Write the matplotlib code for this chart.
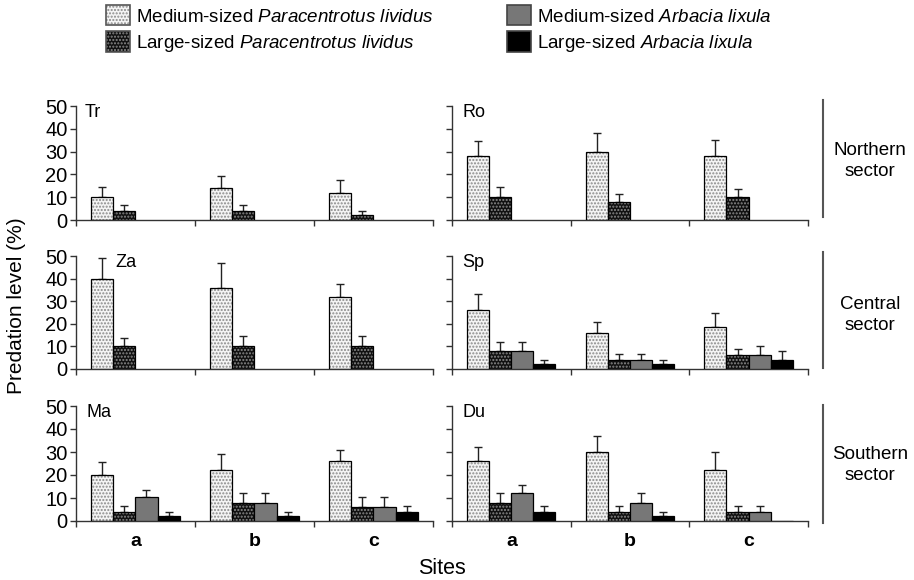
import matplotlib
matplotlib.use("Agg")
import matplotlib.pyplot as plt
import numpy as np
from matplotlib.patches import Patch
from matplotlib.lines import Line2D
from matplotlib.legend_handler import HandlerTuple

plt.rcParams['font.family'] = ['Liberation Sans', 'DejaVu Sans']
plt.rcParams['mathtext.fontset'] = 'custom'
plt.rcParams['mathtext.rm'] = 'Liberation Sans'
plt.rcParams['mathtext.it'] = 'Liberation Sans:italic'
plt.rcParams['hatch.linewidth'] = 1.0

# ---------------- data ----------------
sites = ['a', 'b', 'c']
locations = ['Tr', 'Ro', 'Za', 'Sp', 'Ma', 'Du']
sectors = ['Northern\nsector', 'Central\nsector', 'Southern\nsector']
series_labels = ['Medium-sized $\\it{Paracentrotus\\ lividus}$',
                 'Large-sized $\\it{Paracentrotus\\ lividus}$',
                 'Medium-sized $\\it{Arbacia\\ lixula}$',
                 'Large-sized $\\it{Arbacia\\ lixula}$']

nan = np.nan
# mean predation level (%) per location, sites a, b, c
p_med = {'Tr': [10, 14, 12], 'Ro': [28, 30, 28], 'Za': [40, 36, 32],
         'Sp': [26, 16, 18.5], 'Ma': [20, 22, 26], 'Du': [26, 30, 22]}
p_med_se = {'Tr': [4.5, 5.5, 5.5], 'Ro': [6.5, 8, 7], 'Za': [9, 11, 5.5],
            'Sp': [7, 5, 6.5], 'Ma': [5.5, 7, 5], 'Du': [6, 7, 8]}
p_large = {'Tr': [4, 4, 2], 'Ro': [10, 8, 10], 'Za': [10, 10, 10],
           'Sp': [8, 4, 6], 'Ma': [4, 8, 6], 'Du': [8, 4, 4]}
p_large_se = {'Tr': [2.5, 2.5, 2], 'Ro': [4.5, 3.5, 3.5], 'Za': [3.5, 4.5, 4.5],
              'Sp': [4, 2.5, 3], 'Ma': [2.5, 4, 4.5], 'Du': [4, 2.5, 2.5]}
a_med = {'Tr': [nan, nan, nan], 'Ro': [nan, nan, nan], 'Za': [nan, nan, nan],
         'Sp': [8, 4, 6], 'Ma': [10.5, 8, 6], 'Du': [12, 8, 4]}
a_med_se = {'Tr': [0, 0, 0], 'Ro': [0, 0, 0], 'Za': [0, 0, 0],
            'Sp': [4, 2.5, 4], 'Ma': [3, 4, 4.5], 'Du': [3.5, 4, 2.5]}
a_large = {'Tr': [nan, nan, nan], 'Ro': [nan, nan, nan], 'Za': [nan, nan, nan],
           'Sp': [2, 2, 4], 'Ma': [2, 2, 4], 'Du': [4, 2, 0]}
a_large_se = {'Tr': [0, 0, 0], 'Ro': [0, 0, 0], 'Za': [0, 0, 0],
              'Sp': [2, 2, 4], 'Ma': [2, 2, 2.5], 'Du': [2.5, 2, 0]}

# ---------------- styles ----------------
styles = [
    dict(fc='#f4f4f4', hc='#8a8a8a', hatch='.....'),
    dict(fc='#111111', hc='#8a8a8a', hatch='.....'),
    dict(fc='#777777', hc=None, hatch=None),
    dict(fc='#000000', hc=None, hatch=None),
]

W, H = 914, 580
fig = plt.figure(figsize=(W / 100, H / 100), dpi=100)

col_x = [(76, 433), (452, 808)]
row_y = [(106, 220), (256, 369), (406, 521)]
label_xpos = {'Tr': 0.025, 'Ro': 0.03, 'Za': 0.11, 'Sp': 0.03, 'Ma': 0.03, 'Du': 0.03}

bw = 0.186
off = 0.127

def draw_bars(ax, x, h, err, st):
    mask = ~np.isnan(h)
    if not mask.any():
        return
    x = x[mask]; h = h[mask]; err = err[mask]
    if st['hatch']:
        ax.bar(x, h, width=bw, align='edge', facecolor=st['fc'],
               edgecolor=st['hc'], hatch=st['hatch'], linewidth=0, zorder=2)
        ax.bar(x, h, width=bw, align='edge', fill=False,
               edgecolor='black', linewidth=0.9, zorder=3)
    else:
        ax.bar(x, h, width=bw, align='edge', facecolor=st['fc'],
               edgecolor='black', linewidth=0.9, zorder=3)
    em = err > 0
    if em.any():
        ax.errorbar(x[em] + bw / 2, h[em], yerr=[np.zeros(em.sum()), err[em]],
                    fmt='none', ecolor='#222222', elinewidth=1.0, capsize=3,
                    capthick=1.0, zorder=1)

for i, loc in enumerate(locations):
    r, c = divmod(i, 2)
    x0, x1 = col_x[c]
    y0, y1 = row_y[r]
    ax = fig.add_axes([x0 / W, 1 - y1 / H, (x1 - x0) / W, (y1 - y0) / H])
    g = np.arange(len(sites), dtype=float)
    series = [(p_med, p_med_se), (p_large, p_large_se),
              (a_med, a_med_se), (a_large, a_large_se)]
    for k, (d, e) in enumerate(series):
        draw_bars(ax, g + off + k * bw, np.array(d[loc], dtype=float),
                  np.array(e[loc], dtype=float), styles[k])
    ax.set_xlim(0, 3)
    ax.set_ylim(0, 50)
    for s in ['top', 'right']:
        ax.spines[s].set_visible(False)
    for s in ['left', 'bottom']:
        ax.spines[s].set_color('#333333')
        ax.spines[s].set_linewidth(1.0)
    ax.set_yticks([0, 10, 20, 30, 40, 50])
    ax.set_xticks([0, 1, 2, 3])
    ax.set_xticklabels([])
    ax.tick_params(axis='both', which='major', direction='out', length=4,
                   width=1.0, color='#333333', labelsize=14.5, pad=2)
    if c == 1:
        ax.set_yticklabels([])
    if r == 2:
        ax.set_xticks(g + 0.5, minor=True)
        ax.set_xticklabels(sites, minor=True, fontsize=14, fontweight='bold')
        ax.tick_params(axis='x', which='minor', length=0, pad=9)
    ax.text(label_xpos[loc], 1.015, loc, transform=ax.transAxes, ha='left',
            va='top', fontsize=13)

# sector labels with vertical separators
sector_lines = [(100, 217), (252, 368), (405, 523)]
sector_text_y = [161, 315, 465]
for s, (ya, yb), ty in zip(sectors, sector_lines, sector_text_y):
    fig.add_artist(Line2D([823 / W, 823 / W], [1 - ya / H, 1 - yb / H],
                          color='#555555', linewidth=1.5))
    fig.text(870 / W, 1 - ty / H, s, ha='center', va='center', fontsize=13.5,
             linespacing=1.25)

fig.text(17 / W, 1 - 306 / H, 'Predation level (%)', rotation=90,
         ha='center', va='center', fontsize=15)
fig.text(442 / W, 1 - 569 / H, 'Sites', ha='center', va='center', fontsize=15.5)

# legend
handles = []
for st in styles:
    if st['hatch']:
        handles.append((Patch(facecolor=st['fc'], edgecolor=st['hc'],
                              hatch=st['hatch'], linewidth=0),
                        Patch(fill=False, edgecolor='#555555', linewidth=1.2)))
    else:
        handles.append((Patch(facecolor=st['fc'], edgecolor='#444444',
                              linewidth=1.2),))
fig.legend(handles, series_labels, handler_map={tuple: HandlerTuple(ndivide=1)},
           loc='upper left', bbox_to_anchor=(106 / W, 1 - 5 / H), ncol=2,
           frameon=False, fontsize=13.5, handlelength=1.3, handleheight=1.3,
           handletextpad=0.32, labelspacing=0.3, columnspacing=3.9,
           borderpad=0, borderaxespad=0)

fig.savefig('out.png', dpi=100)
